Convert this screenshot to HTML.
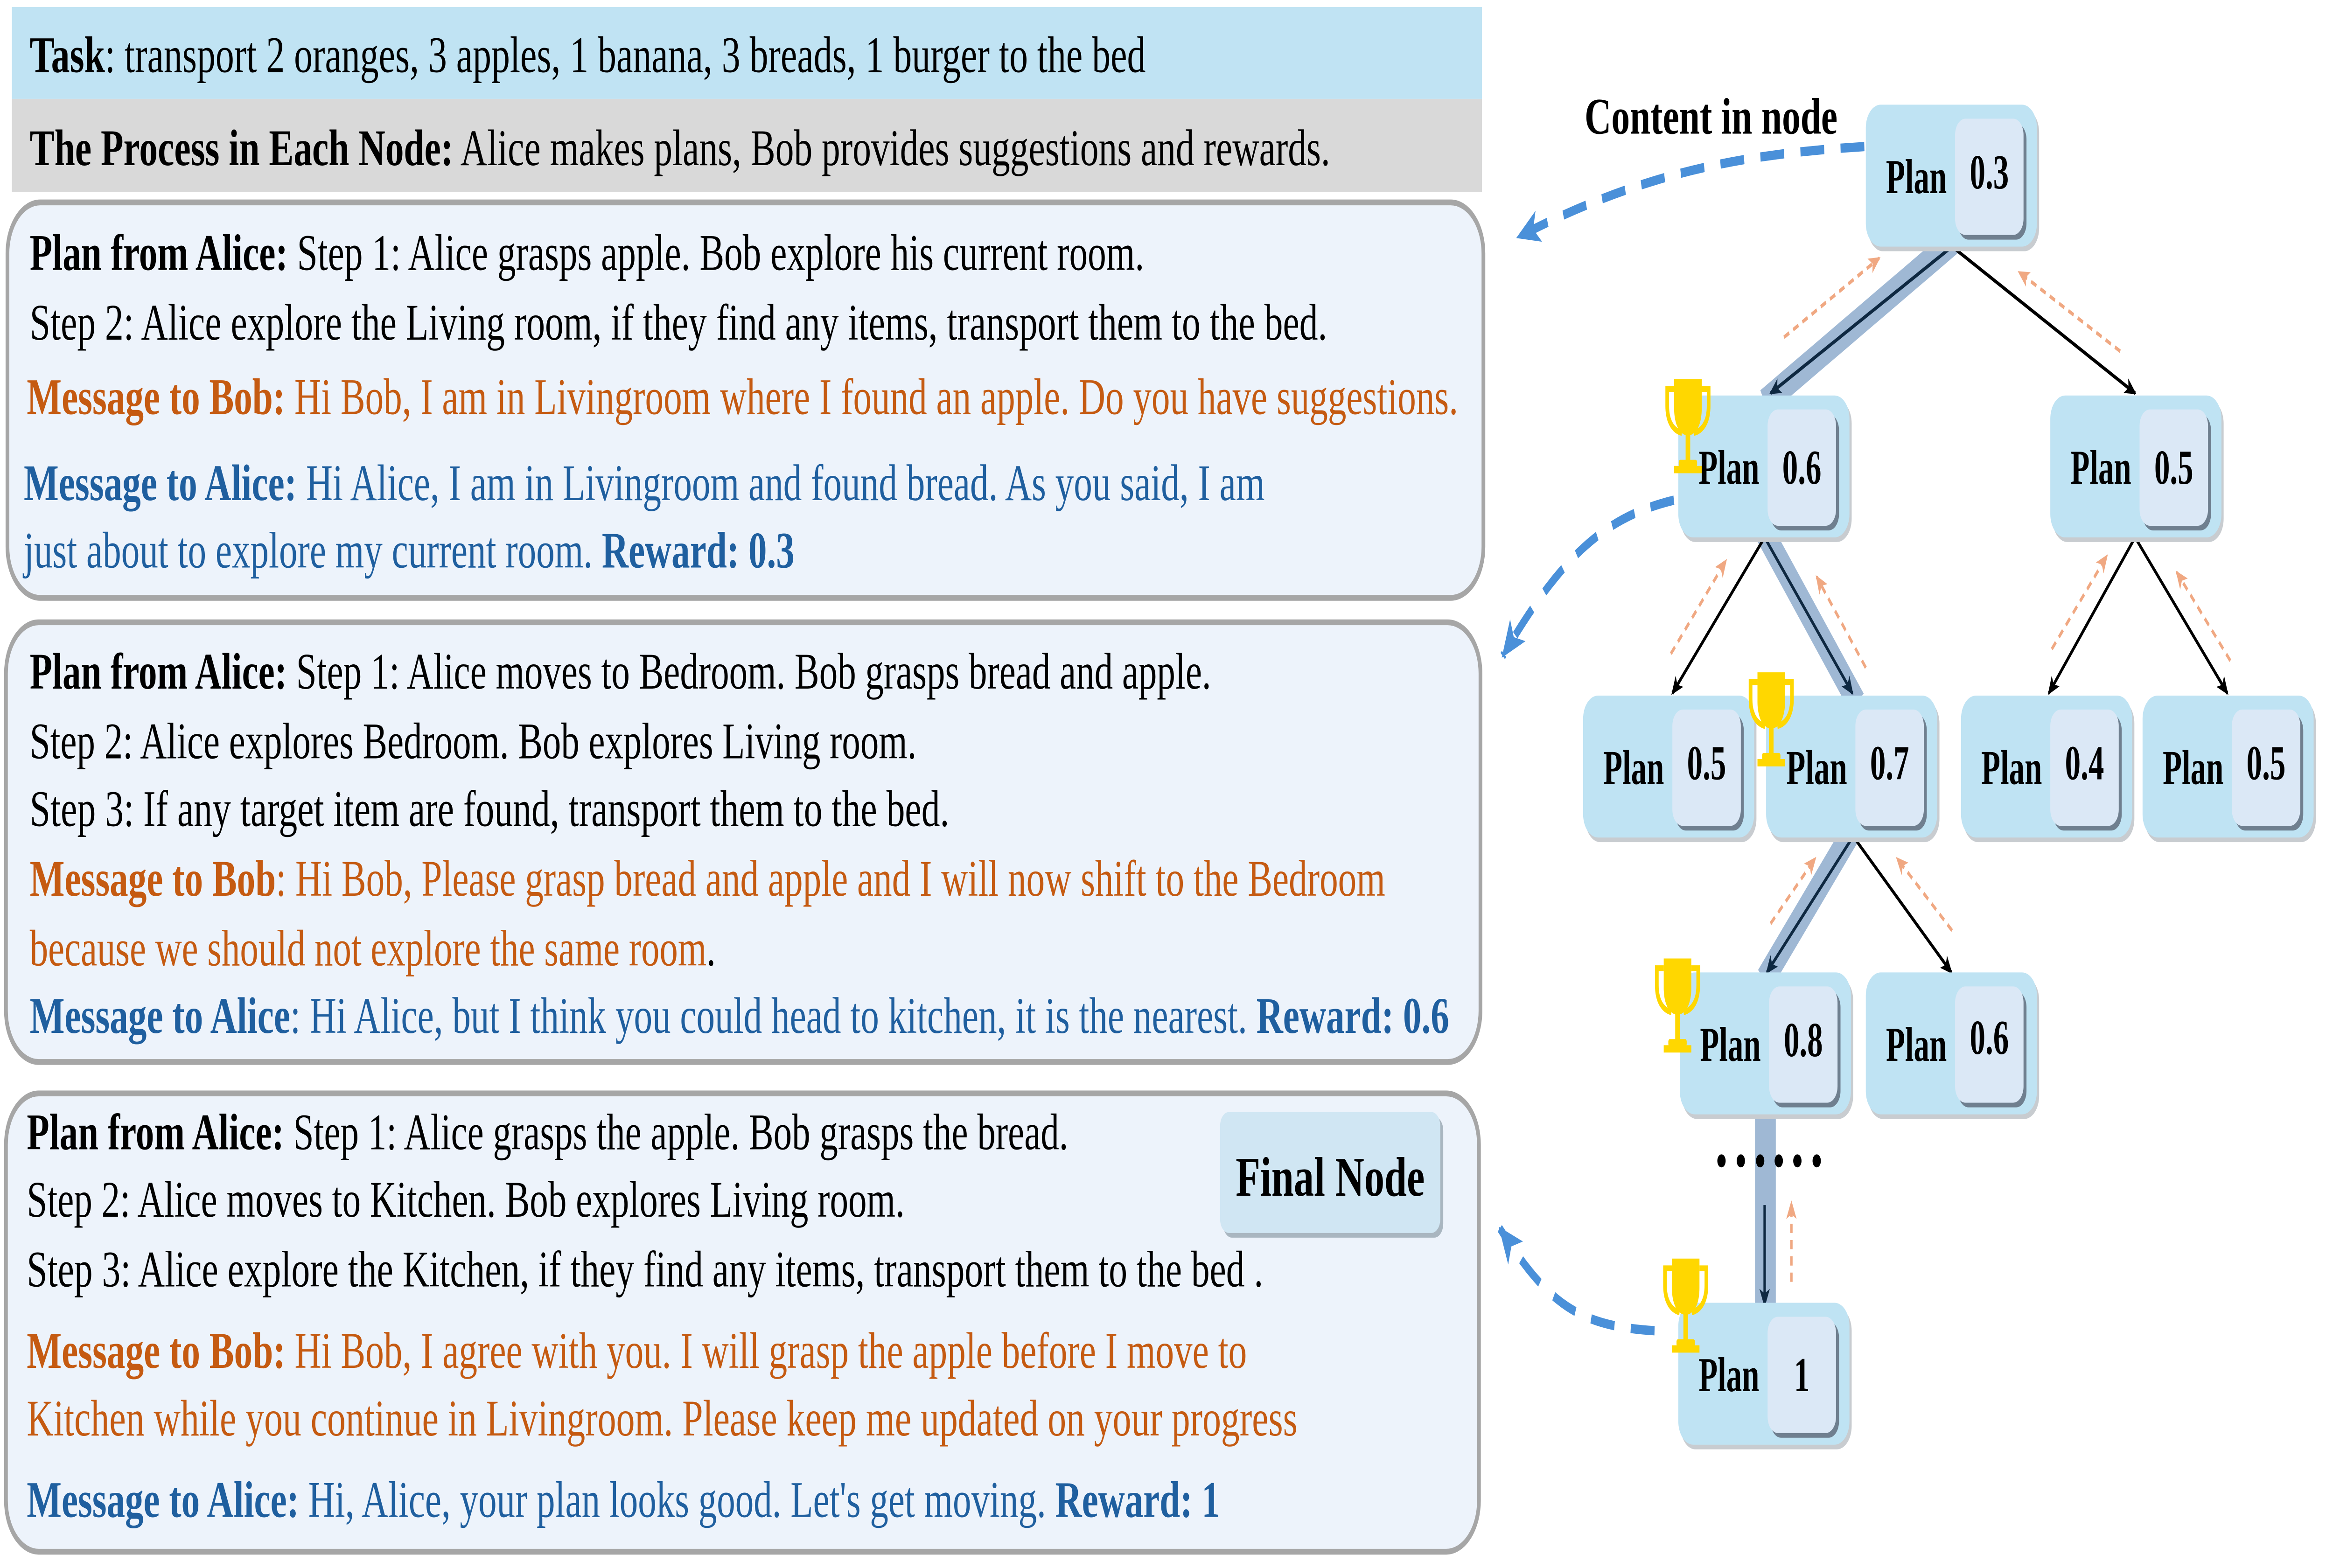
<!DOCTYPE html>
<html><head><meta charset="utf-8"><style>
html,body{margin:0;padding:0;background:#fff;width:100%;height:100%;overflow:hidden;}
svg{display:block;position:fixed;left:0;top:0;width:100vw;height:100vh;}
text{font-family:"Liberation Serif",serif;}
</style></head><body>
<svg viewBox="0 0 1568 674" preserveAspectRatio="none" xmlns="http://www.w3.org/2000/svg">
<defs>
<marker id="ab" markerWidth="8" markerHeight="8" refX="7" refY="4" orient="auto" markerUnits="userSpaceOnUse"><path d="M0,0.5 L8,4 L0,7.5 L2,4 Z" fill="#000"/></marker>
<marker id="ad" markerWidth="8" markerHeight="8" refX="7" refY="4" orient="auto" markerUnits="userSpaceOnUse"><path d="M0,0.5 L8,4 L0,7.5 L2,4 Z" fill="#0e2841"/></marker>
<marker id="ao" markerWidth="8" markerHeight="8" refX="7" refY="4" orient="auto" markerUnits="userSpaceOnUse"><path d="M0,0.5 L8,4 L0,7.5 L2,4 Z" fill="#f0a882"/></marker>
<marker id="abl" markerWidth="16" markerHeight="14" refX="15" refY="7" orient="auto" markerUnits="userSpaceOnUse"><path d="M0,0 L16,7 L0,14 L4,7 Z" fill="#4a90d9"/></marker>
<g id="tro">
<path d="M6,0 H24 V12 C24,19 20,23 15,23 C10,23 6,19 6,12 Z" fill="#ffd700"/>
<path d="M6,4 H1.5 V11 C1.5,17 5,21 11,22 M24,4 H28.5 V11 C28.5,17 25,21 19,22" fill="none" stroke="#ffd700" stroke-width="2.4"/>
<rect x="13.5" y="22" width="3" height="12" fill="#ffd700"/>
<rect x="9" y="33" width="12" height="3" rx="1" fill="#ffd700"/>
<rect x="6" y="35.5" width="18" height="3" fill="#ffd700"/>
</g>
</defs>

<rect x="8" y="3" width="988" height="39.5" fill="#c0e3f3"/>
<rect x="8" y="42.5" width="988" height="40" fill="#d9d9d9"/>
<text x="20" y="31" font-size="22" textLength="750" lengthAdjust="spacingAndGlyphs"><tspan font-weight="bold">Task</tspan>: transport 2 oranges, 3 apples, 1 banana, 3 breads, 1 burger to the bed</text>
<text x="20" y="71" font-size="22" textLength="874" lengthAdjust="spacingAndGlyphs"><tspan font-weight="bold">The Process in Each Node:</tspan> Alice makes plans, Bob provides suggestions and rewards.</text>

<rect x="5" y="87" width="992" height="170" rx="22" fill="#edf3fb" stroke="#a6a6a6" stroke-width="2.5"/>
<text x="20" y="116" font-size="22" textLength="749" lengthAdjust="spacingAndGlyphs"><tspan font-weight="bold">Plan from Alice:</tspan> Step 1: Alice grasps apple. Bob explore his current room.</text>
<text x="20" y="146" font-size="22" textLength="872" lengthAdjust="spacingAndGlyphs">Step 2: Alice explore the Living room, if they find any items, transport them to the bed.</text>
<text x="18" y="178" font-size="22" fill="#c55a11" textLength="962" lengthAdjust="spacingAndGlyphs"><tspan font-weight="bold">Message to Bob:</tspan> Hi Bob, I am in Livingroom where I found an apple. Do you have suggestions.</text>
<text x="16" y="215" font-size="22" fill="#1f5f9f" textLength="834" lengthAdjust="spacingAndGlyphs"><tspan font-weight="bold">Message to Alice:</tspan> Hi Alice, I am in Livingroom and found bread. As you said, I am</text>
<text x="16" y="244" font-size="22" fill="#1f5f9f" textLength="518" lengthAdjust="spacingAndGlyphs">just about to explore my current room. <tspan font-weight="bold">Reward: 0.3</tspan></text>

<rect x="4" y="267.5" width="991" height="189" rx="22" fill="#edf3fb" stroke="#a6a6a6" stroke-width="2.5"/>
<text x="20" y="296" font-size="22" textLength="794" lengthAdjust="spacingAndGlyphs"><tspan font-weight="bold">Plan from Alice:</tspan> Step 1: Alice moves to Bedroom. Bob grasps bread and apple.</text>
<text x="20" y="326" font-size="22" textLength="596" lengthAdjust="spacingAndGlyphs">Step 2: Alice explores Bedroom. Bob explores Living room.</text>
<text x="20" y="355" font-size="22" textLength="618" lengthAdjust="spacingAndGlyphs">Step 3: If any target item are found, transport  them to the bed.</text>
<text x="20" y="385" font-size="22" fill="#c55a11" textLength="911" lengthAdjust="spacingAndGlyphs"><tspan font-weight="bold">Message to Bob</tspan>: Hi Bob, Please grasp bread and apple and I will now shift to the Bedroom</text>
<text x="20" y="415" font-size="22" fill="#c55a11" textLength="461" lengthAdjust="spacingAndGlyphs">because we should not explore the same room<tspan fill="#000">.</tspan></text>
<text x="20" y="444" font-size="22" fill="#1f5f9f" textLength="954" lengthAdjust="spacingAndGlyphs"><tspan font-weight="bold">Message to Alice</tspan>: Hi Alice, but I think you could head to kitchen, it is the nearest. <tspan font-weight="bold">Reward: 0.6</tspan></text>

<rect x="4" y="470" width="990" height="197" rx="22" fill="#edf3fb" stroke="#a6a6a6" stroke-width="2.5"/>
<rect x="822" y="480" width="148" height="52" rx="6" fill="#a9b6c0"/>
<rect x="820" y="478" width="148" height="52" rx="6" fill="#d0e6f3"/>
<text x="894" y="514" font-size="24" font-weight="bold" text-anchor="middle" textLength="127" lengthAdjust="spacingAndGlyphs">Final Node</text>
<text x="18" y="494" font-size="22" textLength="700" lengthAdjust="spacingAndGlyphs"><tspan font-weight="bold">Plan from Alice:</tspan> Step 1: Alice grasps the apple. Bob grasps the bread.</text>
<text x="18" y="523" font-size="22" textLength="590" lengthAdjust="spacingAndGlyphs">Step 2: Alice moves to Kitchen. Bob explores Living room.</text>
<text x="18" y="553" font-size="22" textLength="831" lengthAdjust="spacingAndGlyphs">Step 3: Alice explore the Kitchen, if they find any items, transport them to the bed .</text>
<text x="18" y="588" font-size="22" fill="#c55a11" textLength="820" lengthAdjust="spacingAndGlyphs"><tspan font-weight="bold">Message to Bob:</tspan> Hi Bob, I agree with you. I will grasp the apple before I move to</text>
<text x="18" y="617" font-size="22" fill="#c55a11" textLength="854" lengthAdjust="spacingAndGlyphs">Kitchen while you continue in Livingroom. Please keep me updated on your progress</text>
<text x="18" y="652" font-size="22" fill="#1f5f9f" textLength="802" lengthAdjust="spacingAndGlyphs"><tspan font-weight="bold">Message to Alice:</tspan> Hi, Alice, your plan looks good. Let's get moving. <tspan font-weight="bold">Reward: 1</tspan></text>

<text x="1065" y="57.5" font-size="22" font-weight="bold" textLength="170" lengthAdjust="spacingAndGlyphs">Content in node</text>

<g fill="none" stroke="#4a90d9" stroke-width="4" stroke-dasharray="16 11">
<path d="M1253,63 C1180,66 1110,72 1020,102" marker-end="url(#abl)"/>
<path d="M1125,215 C1080,222 1050,238 1010,282" marker-end="url(#abl)"/>
<path d="M1112,572 C1060,570 1040,560 1008,528" marker-end="url(#abl)"/>
</g>

<g stroke="#8eaccd" stroke-opacity="0.85" fill="none">
<line x1="1314" y1="103" x2="1186" y2="173" stroke-width="12"/>
<line x1="1185" y1="228" x2="1248" y2="302" stroke-width="12"/>
<line x1="1246" y1="356" x2="1186" y2="421" stroke-width="12"/>
<line x1="1186.5" y1="478" x2="1186.5" y2="561" stroke-width="14"/>
</g>

<g stroke-width="1.6" fill="none">
<line x1="1312" y1="106" x2="1190" y2="169" stroke="#0e2841" marker-end="url(#ad)"/>
<line x1="1312" y1="106" x2="1435" y2="169" stroke="#000" marker-end="url(#ab)"/>
<line x1="1186" y1="231" x2="1124" y2="298" stroke="#000" marker-end="url(#ab)"/>
<line x1="1186" y1="231" x2="1245" y2="298" stroke="#0e2841" marker-end="url(#ad)"/>
<line x1="1435" y1="231" x2="1377" y2="298" stroke="#000" marker-end="url(#ab)"/>
<line x1="1435" y1="231" x2="1497" y2="298" stroke="#000" marker-end="url(#ab)"/>
<line x1="1245.5" y1="359.5" x2="1187.5" y2="418" stroke="#0e2841" marker-end="url(#ad)"/>
<line x1="1245.5" y1="359.5" x2="1311.5" y2="418" stroke="#000" marker-end="url(#ab)"/>
<line x1="1186" y1="518" x2="1186" y2="561" stroke="#0e2841" marker-end="url(#ad)"/>
</g>
<g stroke="#f0a882" stroke-width="1.6" stroke-dasharray="4 3" fill="none">
<line x1="1199" y1="145" x2="1263" y2="111" marker-end="url(#ao)"/>
<line x1="1425" y1="151" x2="1357" y2="117" marker-end="url(#ao)"/>
<line x1="1123" y1="281" x2="1160" y2="241" marker-end="url(#ao)"/>
<line x1="1254" y1="287" x2="1221" y2="248" marker-end="url(#ao)"/>
<line x1="1379" y1="279" x2="1416" y2="239" marker-end="url(#ao)"/>
<line x1="1499" y1="284" x2="1463" y2="246" marker-end="url(#ao)"/>
<line x1="1190" y1="397" x2="1220" y2="369" marker-end="url(#ao)"/>
<line x1="1312" y1="400" x2="1275" y2="369" marker-end="url(#ao)"/>
<line x1="1204" y1="551" x2="1204" y2="517" marker-end="url(#ao)"/>
</g>

<g font-weight="bold" font-size="21">
<g transform="translate(1254,45)"><rect x="1.5" y="2" width="115" height="61" rx="10" fill="#c8ccd0"/><rect width="115" height="61" rx="10" fill="#bfe3f3"/><rect x="62" y="8" width="46" height="50" rx="7" fill="#6f7f8f"/><rect x="60" y="6" width="46" height="50" rx="7" fill="#dbe8f6"/><text x="34" y="38" text-anchor="middle">Plan</text><text x="83" y="36" text-anchor="middle">0.3</text></g>
<g transform="translate(1128,170)"><rect x="1.5" y="2" width="115" height="61" rx="10" fill="#c8ccd0"/><rect width="115" height="61" rx="10" fill="#bfe3f3"/><rect x="62" y="8" width="46" height="50" rx="7" fill="#6f7f8f"/><rect x="60" y="6" width="46" height="50" rx="7" fill="#dbe8f6"/><text x="34" y="38" text-anchor="middle">Plan</text><text x="83" y="38" text-anchor="middle">0.6</text></g>
<g transform="translate(1378,170)"><rect x="1.5" y="2" width="115" height="61" rx="10" fill="#c8ccd0"/><rect width="115" height="61" rx="10" fill="#bfe3f3"/><rect x="62" y="8" width="46" height="50" rx="7" fill="#6f7f8f"/><rect x="60" y="6" width="46" height="50" rx="7" fill="#dbe8f6"/><text x="34" y="38" text-anchor="middle">Plan</text><text x="83" y="38" text-anchor="middle">0.5</text></g>
<g transform="translate(1064,299)"><rect x="1.5" y="2" width="115" height="61" rx="10" fill="#c8ccd0"/><rect width="115" height="61" rx="10" fill="#bfe3f3"/><rect x="62" y="8" width="46" height="50" rx="7" fill="#6f7f8f"/><rect x="60" y="6" width="46" height="50" rx="7" fill="#dbe8f6"/><text x="34" y="38" text-anchor="middle">Plan</text><text x="83" y="36" text-anchor="middle">0.5</text></g>
<g transform="translate(1187,299)"><rect x="1.5" y="2" width="115" height="61" rx="10" fill="#c8ccd0"/><rect width="115" height="61" rx="10" fill="#bfe3f3"/><rect x="62" y="8" width="46" height="50" rx="7" fill="#6f7f8f"/><rect x="60" y="6" width="46" height="50" rx="7" fill="#dbe8f6"/><text x="34" y="38" text-anchor="middle">Plan</text><text x="83" y="36" text-anchor="middle">0.7</text></g>
<g transform="translate(1318,299)"><rect x="1.5" y="2" width="115" height="61" rx="10" fill="#c8ccd0"/><rect width="115" height="61" rx="10" fill="#bfe3f3"/><rect x="62" y="8" width="46" height="50" rx="7" fill="#6f7f8f"/><rect x="60" y="6" width="46" height="50" rx="7" fill="#dbe8f6"/><text x="34" y="38" text-anchor="middle">Plan</text><text x="83" y="36" text-anchor="middle">0.4</text></g>
<g transform="translate(1440,299)"><rect x="1.5" y="2" width="115" height="61" rx="10" fill="#c8ccd0"/><rect width="115" height="61" rx="10" fill="#bfe3f3"/><rect x="62" y="8" width="46" height="50" rx="7" fill="#6f7f8f"/><rect x="60" y="6" width="46" height="50" rx="7" fill="#dbe8f6"/><text x="34" y="38" text-anchor="middle">Plan</text><text x="83" y="36" text-anchor="middle">0.5</text></g>
<g transform="translate(1129,418)"><rect x="1.5" y="2" width="115" height="61" rx="10" fill="#c8ccd0"/><rect width="115" height="61" rx="10" fill="#bfe3f3"/><rect x="62" y="8" width="46" height="50" rx="7" fill="#6f7f8f"/><rect x="60" y="6" width="46" height="50" rx="7" fill="#dbe8f6"/><text x="34" y="38" text-anchor="middle">Plan</text><text x="83" y="36" text-anchor="middle">0.8</text></g>
<g transform="translate(1254,418)"><rect x="1.5" y="2" width="115" height="61" rx="10" fill="#c8ccd0"/><rect width="115" height="61" rx="10" fill="#bfe3f3"/><rect x="62" y="8" width="46" height="50" rx="7" fill="#6f7f8f"/><rect x="60" y="6" width="46" height="50" rx="7" fill="#dbe8f6"/><text x="34" y="38" text-anchor="middle">Plan</text><text x="83" y="35" text-anchor="middle">0.6</text></g>
<g transform="translate(1128,560)"><rect x="1.5" y="2" width="115" height="61" rx="10" fill="#c8ccd0"/><rect width="115" height="61" rx="10" fill="#bfe3f3"/><rect x="62" y="8" width="46" height="50" rx="7" fill="#6f7f8f"/><rect x="60" y="6" width="46" height="50" rx="7" fill="#dbe8f6"/><text x="34" y="38" text-anchor="middle">Plan</text><text x="83" y="38" text-anchor="middle">1</text></g>
</g>

<use href="#tro" transform="translate(1119,163) scale(1.03,1.05)"/>
<use href="#tro" transform="translate(1175,289) scale(1.03,1.05)"/>
<use href="#tro" transform="translate(1112,412) scale(1.03,1.05)"/>
<use href="#tro" transform="translate(1117.5,541) scale(1.03,1.05)"/>

<g fill="#000">
<circle cx="1157" cy="499" r="2.8"/><circle cx="1170" cy="499" r="2.8"/><circle cx="1183" cy="499" r="2.8"/><circle cx="1195.5" cy="499" r="2.8"/><circle cx="1208" cy="499" r="2.8"/><circle cx="1221" cy="499" r="2.8"/>
</g>
</svg>
</body></html>
